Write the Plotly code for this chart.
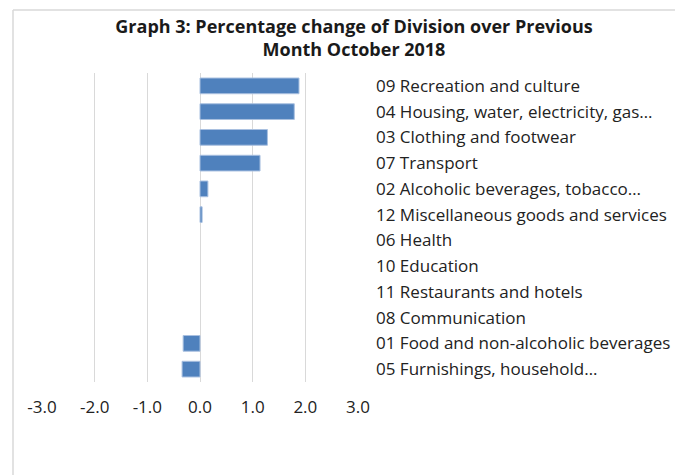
import plotly.graph_objects as go

categories = [
    "09 Recreation and culture",
    "04 Housing, water, electricity, gas…",
    "03 Clothing and footwear",
    "07 Transport",
    "02 Alcoholic beverages, tobacco…",
    "12 Miscellaneous goods and services",
    "06 Health",
    "10 Education",
    "11 Restaurants and hotels",
    "08 Communication",
    "01 Food and non-alcoholic beverages",
    "05 Furnishings, household…",
]
values = [1.88, 1.79, 1.28, 1.14, 0.15, 0.04, 0.0, 0.0, 0.0, 0.0, -0.32, -0.34]
x_ticks = [-3, -2, -1, 0, 1, 2, 3]
x_ticklabels = ["-3.0", "-2.0", "-1.0", "0.0", "1.0", "2.0", "3.0"]

FONT = "Open Sans"

fig = go.Figure(
    go.Bar(
        x=values,
        y=categories,
        orientation="h",
        marker=dict(
            color="#4f81bd",
            line=dict(color="#a9c0e0", width=[1 if v != 0 else 0 for v in values]),
        ),
    )
)

# plot area (pixels): x 42..358, y 73..382
fig.update_layout(
    width=675,
    height=475,
    margin=dict(l=42, r=317, t=73, b=93, autoexpand=False),
    paper_bgcolor="white",
    plot_bgcolor="white",
    bargap=0.39,
    showlegend=False,
    title=dict(
        text="<b>Graph 3: Percentage change of Division over Previous<br>Month October 2018</b>",
        x=354 / 675,
        xanchor="center",
        y=1 - 33 / 475,
        yanchor="top",
        font=dict(family=FONT, size=18, color="#1a1a1a"),
    ),
    font=dict(family=FONT, size=17, color="#222222"),
)

fig.update_xaxes(
    range=[-3, 3],
    tickvals=x_ticks,
    ticktext=x_ticklabels,
    showgrid=True,
    gridcolor="#d9d9d9",
    gridwidth=1,
    zeroline=False,
    showline=False,
    ticks="",
    ticklabelstandoff=13,
    tickfont=dict(family=FONT, size=17, color="#222222"),
    automargin=False,
)
fig.update_yaxes(
    categoryorder="array",
    categoryarray=categories[::-1],
    side="right",
    showgrid=False,
    zeroline=False,
    showline=False,
    ticks="",
    ticklabelstandoff=17,
    tickfont=dict(family=FONT, size=17, color="#222222"),
    automargin=False,
)

# chart frame (left and top edges visible)
fig.add_shape(
    type="line", xref="paper", yref="paper",
    x0=(13 - 42) / 316, x1=(13 - 42) / 316,
    y0=(382 - 520) / 309, y1=(382 - 10) / 309,
    line=dict(color="#d9d9d9", width=1.5),
)
fig.add_shape(
    type="line", xref="paper", yref="paper",
    x0=(13 - 42) / 316, x1=(720 - 42) / 316,
    y0=(382 - 10) / 309, y1=(382 - 10) / 309,
    line=dict(color="#d9d9d9", width=1.5),
)

fig.write_html(
    "out.html",
    config={"displayModeBar": False},
    post_script=(
        "document.body.style.margin='0';"
        "document.body.style.overflow='hidden';"
        "document.documentElement.style.overflow='hidden';"
    ),
)
